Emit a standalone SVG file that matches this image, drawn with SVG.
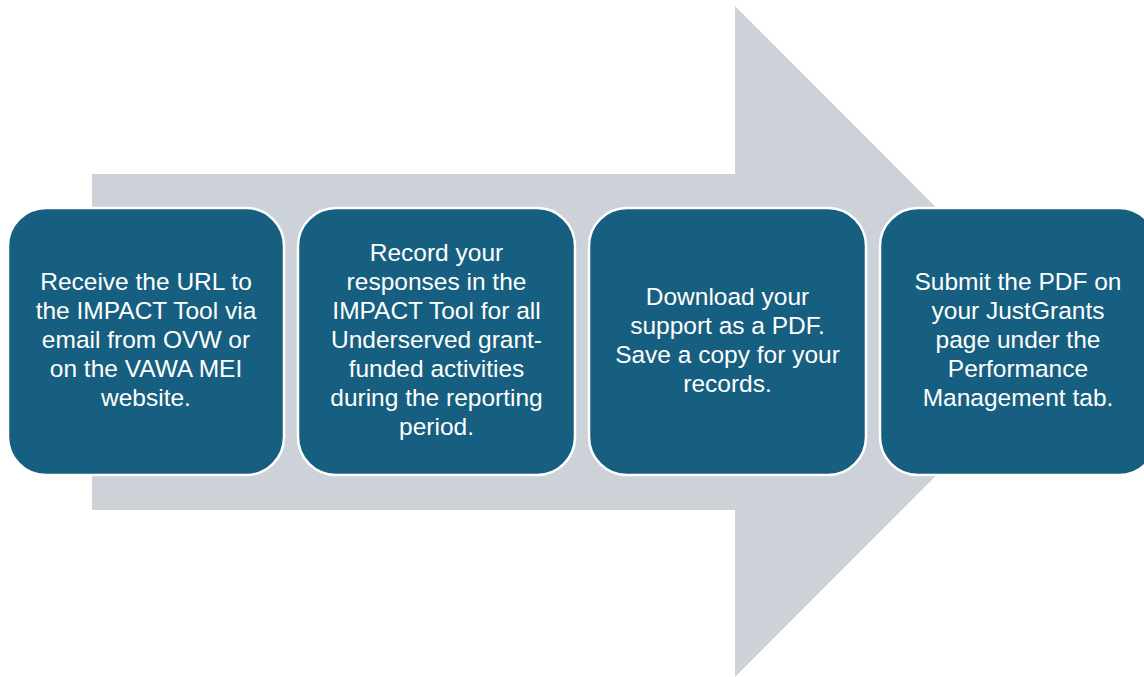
<svg xmlns="http://www.w3.org/2000/svg" width="1144" height="677" viewBox="0 0 1144 677">
<style>
.box{fill:#175f80;stroke:#ffffff;stroke-width:2.5}
.t{fill:#ffffff;font-family:"Liberation Sans",Arial,sans-serif;font-size:24.5px;text-anchor:middle}
</style>
<rect width="1144" height="677" fill="#ffffff"/>
<g id="arrow">
<polygon points="92,174 735,174 735,6 1070,341.5 735,677 735,510 92,510" fill="#cdd2d9"/>
</g>
<g id="step1">
<rect class="box" x="8" y="208" width="276" height="267" rx="38"/>
<text class="t"><tspan x="146" y="290">Receive the URL to</tspan><tspan x="146" y="319">the IMPACT Tool via</tspan><tspan x="146" y="348">email from OVW or</tspan><tspan x="146" y="377">on the VAWA MEI</tspan><tspan x="146" y="406">website.</tspan></text>
</g>
<g id="step2">
<rect class="box" x="298" y="208" width="277" height="267" rx="38"/>
<text class="t"><tspan x="436.5" y="261">Record your</tspan><tspan x="436.5" y="290">responses in the</tspan><tspan x="436.5" y="319">IMPACT Tool for all</tspan><tspan x="436.5" y="348">Underserved grant-</tspan><tspan x="436.5" y="377">funded activities</tspan><tspan x="436.5" y="406">during the reporting</tspan><tspan x="436.5" y="435">period.</tspan></text>
</g>
<g id="step3">
<rect class="box" x="589" y="208" width="277" height="267" rx="38"/>
<text class="t"><tspan x="727.5" y="305">Download your</tspan><tspan x="727.5" y="334">support as a PDF.</tspan><tspan x="727.5" y="363">Save a copy for your</tspan><tspan x="727.5" y="392">records.</tspan></text>
</g>
<g id="step4">
<rect class="box" x="880" y="208" width="277" height="267" rx="38"/>
<text class="t"><tspan x="1018" y="290">Submit the PDF on</tspan><tspan x="1018" y="319">your JustGrants</tspan><tspan x="1018" y="348">page under the</tspan><tspan x="1018" y="377">Performance</tspan><tspan x="1018" y="406">Management tab.</tspan></text>
</g>
<g id="connectors"></g>
</svg>
